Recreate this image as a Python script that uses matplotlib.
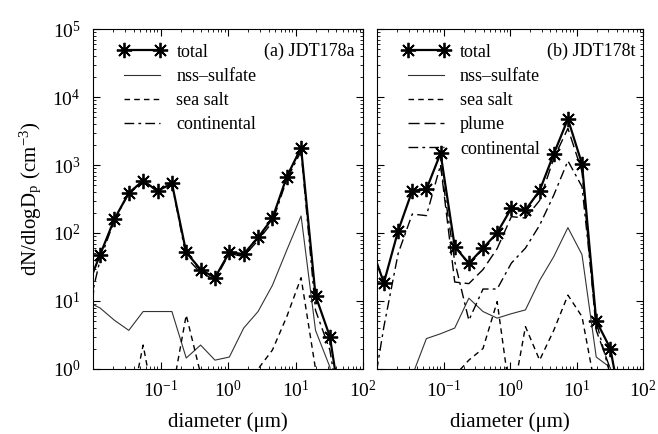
import numpy as np
import matplotlib
matplotlib.use('Agg')
import matplotlib.pyplot as plt

plt.rcParams['font.family'] = ['Liberation Serif', 'DejaVu Serif']
plt.rcParams['mathtext.fontset'] = 'stix'

nan = np.nan

# bin diameters (um), first and last bins fall outside the visible range
diam = [0.0078, 0.0127, 0.0208, 0.0339, 0.0553, 0.0903, 0.1476, 0.2405, 0.3926,
        0.641, 1.047, 1.708, 2.787, 4.55, 7.43, 12.1, 19.8, 32.3, 52.7]

# (a) JDT178a
total_a = [14, 47.5, 161, 388, 588, 415, 538, 52, 29, 22, 52, 49, 86, 164, 673, 1796, 12, 3.0, 0.13]
sulfate_a = [10, 7.9, 5.2, 3.7, 7.0, 7.0, 7.0, 1.45, 2.25, 1.35, 1.5, 4.0, 7.0, 17, 56, 178, 3.7, 1.07, 0.05]
seasalt_a = [0.01, 0.01, 0.01, 0.2, 2.25, 0.17, 0.43, 6.2, 0.85, 0.01, 0.01, 0.01, 1.0, 1.9, 5.9, 22, 1.0, 0.01, 0.01]
contin_a = [5, 40, 156, 384, 579, 408, 531, 44, 26, 20.6, 50, 45, 78, 145, 611, 1596, 7.3, 1.9, 0.1]

# (b) JDT178t
total_b = [70, 18.6, 108, 419, 439, 1486, 63, 35.8, 59.6, 101, 231, 218, 419, 1452, 4747, 1035, 5.1, 2.0, 0.15]
sulfate_b = [0.01, 0.01, 0.01, 0.8, 2.8, 3.3, 4.0, 11, 7.0, 5.6, 6.5, 7.4, 20, 45, 120, 48, 1.5, 1.05, 0.02]
seasalt_b = [0.01, 0.01, 0.01, 0.01, 0.01, 0.01, 0.8, 1.35, 2.0, 9.8, 0.3, 4.2, 1.35, 3.7, 12.2, 5.9, 0.45, 0.01, 0.01]
plume_b = [nan, nan, nan, nan, nan, 1000, 19, 18, 29, 59, 174, 166, 300, 1250, 3460, 800, 3.7, 1.0, 0.01]
contin_b = [0.23, 4.2, 50, 190, 180, 1000, 38, 5.2, 15, 15, 36, 60, 130, 360, 1150, 480, 5, 0.8, 0.01]

star = (8, 2, 0)


def setup(ax, title):
    ax.set_xscale('log')
    ax.set_yscale('log')
    ax.set_xlim(0.01, 100)
    ax.set_ylim(1, 1e5)
    ax.tick_params(which='both', direction='in', top=True, right=True, labelsize=14)
    ax.tick_params(which='major', length=5, width=0.8)
    ax.tick_params(which='minor', length=2.5, width=0.6)
    ax.tick_params(axis='x', pad=8)
    ax.tick_params(axis='y', pad=9)
    ax.set_xticks([0.1, 1, 10, 100])
    ax.set_xlabel('diameter (μm)', fontsize=15, labelpad=8)
    ax.text(0.97, 0.935, title, transform=ax.transAxes, ha='right', va='center', fontsize=13)
    for s in ax.spines.values():
        s.set_linewidth(0.8)


fig = plt.figure(figsize=(6.58, 4.34), dpi=100)
ax1 = fig.add_axes([93 / 658, 1 - 369 / 434, 270 / 658, 340 / 434])
ax2 = fig.add_axes([377 / 658, 1 - 369 / 434, 266 / 658, 340 / 434])

ax1.plot(diam, total_a, color='k', lw=1.6, marker=star, ms=11, mew=1.3, label='total')
ax1.plot(diam, sulfate_a, color='#333333', lw=0.8, label='nss\u2013sulfate')
ax1.plot(diam, seasalt_a, color='k', lw=1.0, ls=(0, (4, 3)), label='sea salt')
ax1.plot(diam, contin_a, color='k', lw=1.0, ls=(0, (7, 3, 2, 3)), label='continental')
setup(ax1, '(a) JDT178a')
ax1.set_ylabel('dN/dlogD$_\\mathregular{p}$ (cm$^{\\mathregular{-3}}$)', fontsize=15, labelpad=6)

ax2.plot(diam, total_b, color='k', lw=1.6, marker=star, ms=11, mew=1.3, label='total')
ax2.plot(diam, sulfate_b, color='#333333', lw=0.8, label='nss\u2013sulfate')
ax2.plot(diam, seasalt_b, color='k', lw=1.0, ls=(0, (4, 3)), label='sea salt')
ax2.plot(diam, plume_b, color='k', lw=1.0, ls=(0, (8, 3.5)), label='plume')
ax2.plot(diam, contin_b, color='k', lw=1.0, ls=(0, (7, 3, 2, 3)), label='continental')
setup(ax2, '(b) JDT178t')
ax2.tick_params(axis='y', which='both', labelleft=False)

for ax in (ax1, ax2):
    ax.legend(loc='upper left', bbox_to_anchor=(0.095, 0.957), frameon=False, fontsize=13,
              numpoints=2, handlelength=2.6, handletextpad=0.6, labelspacing=0.4,
              borderpad=0, borderaxespad=0)

plt.savefig('out.png', dpi=100)
